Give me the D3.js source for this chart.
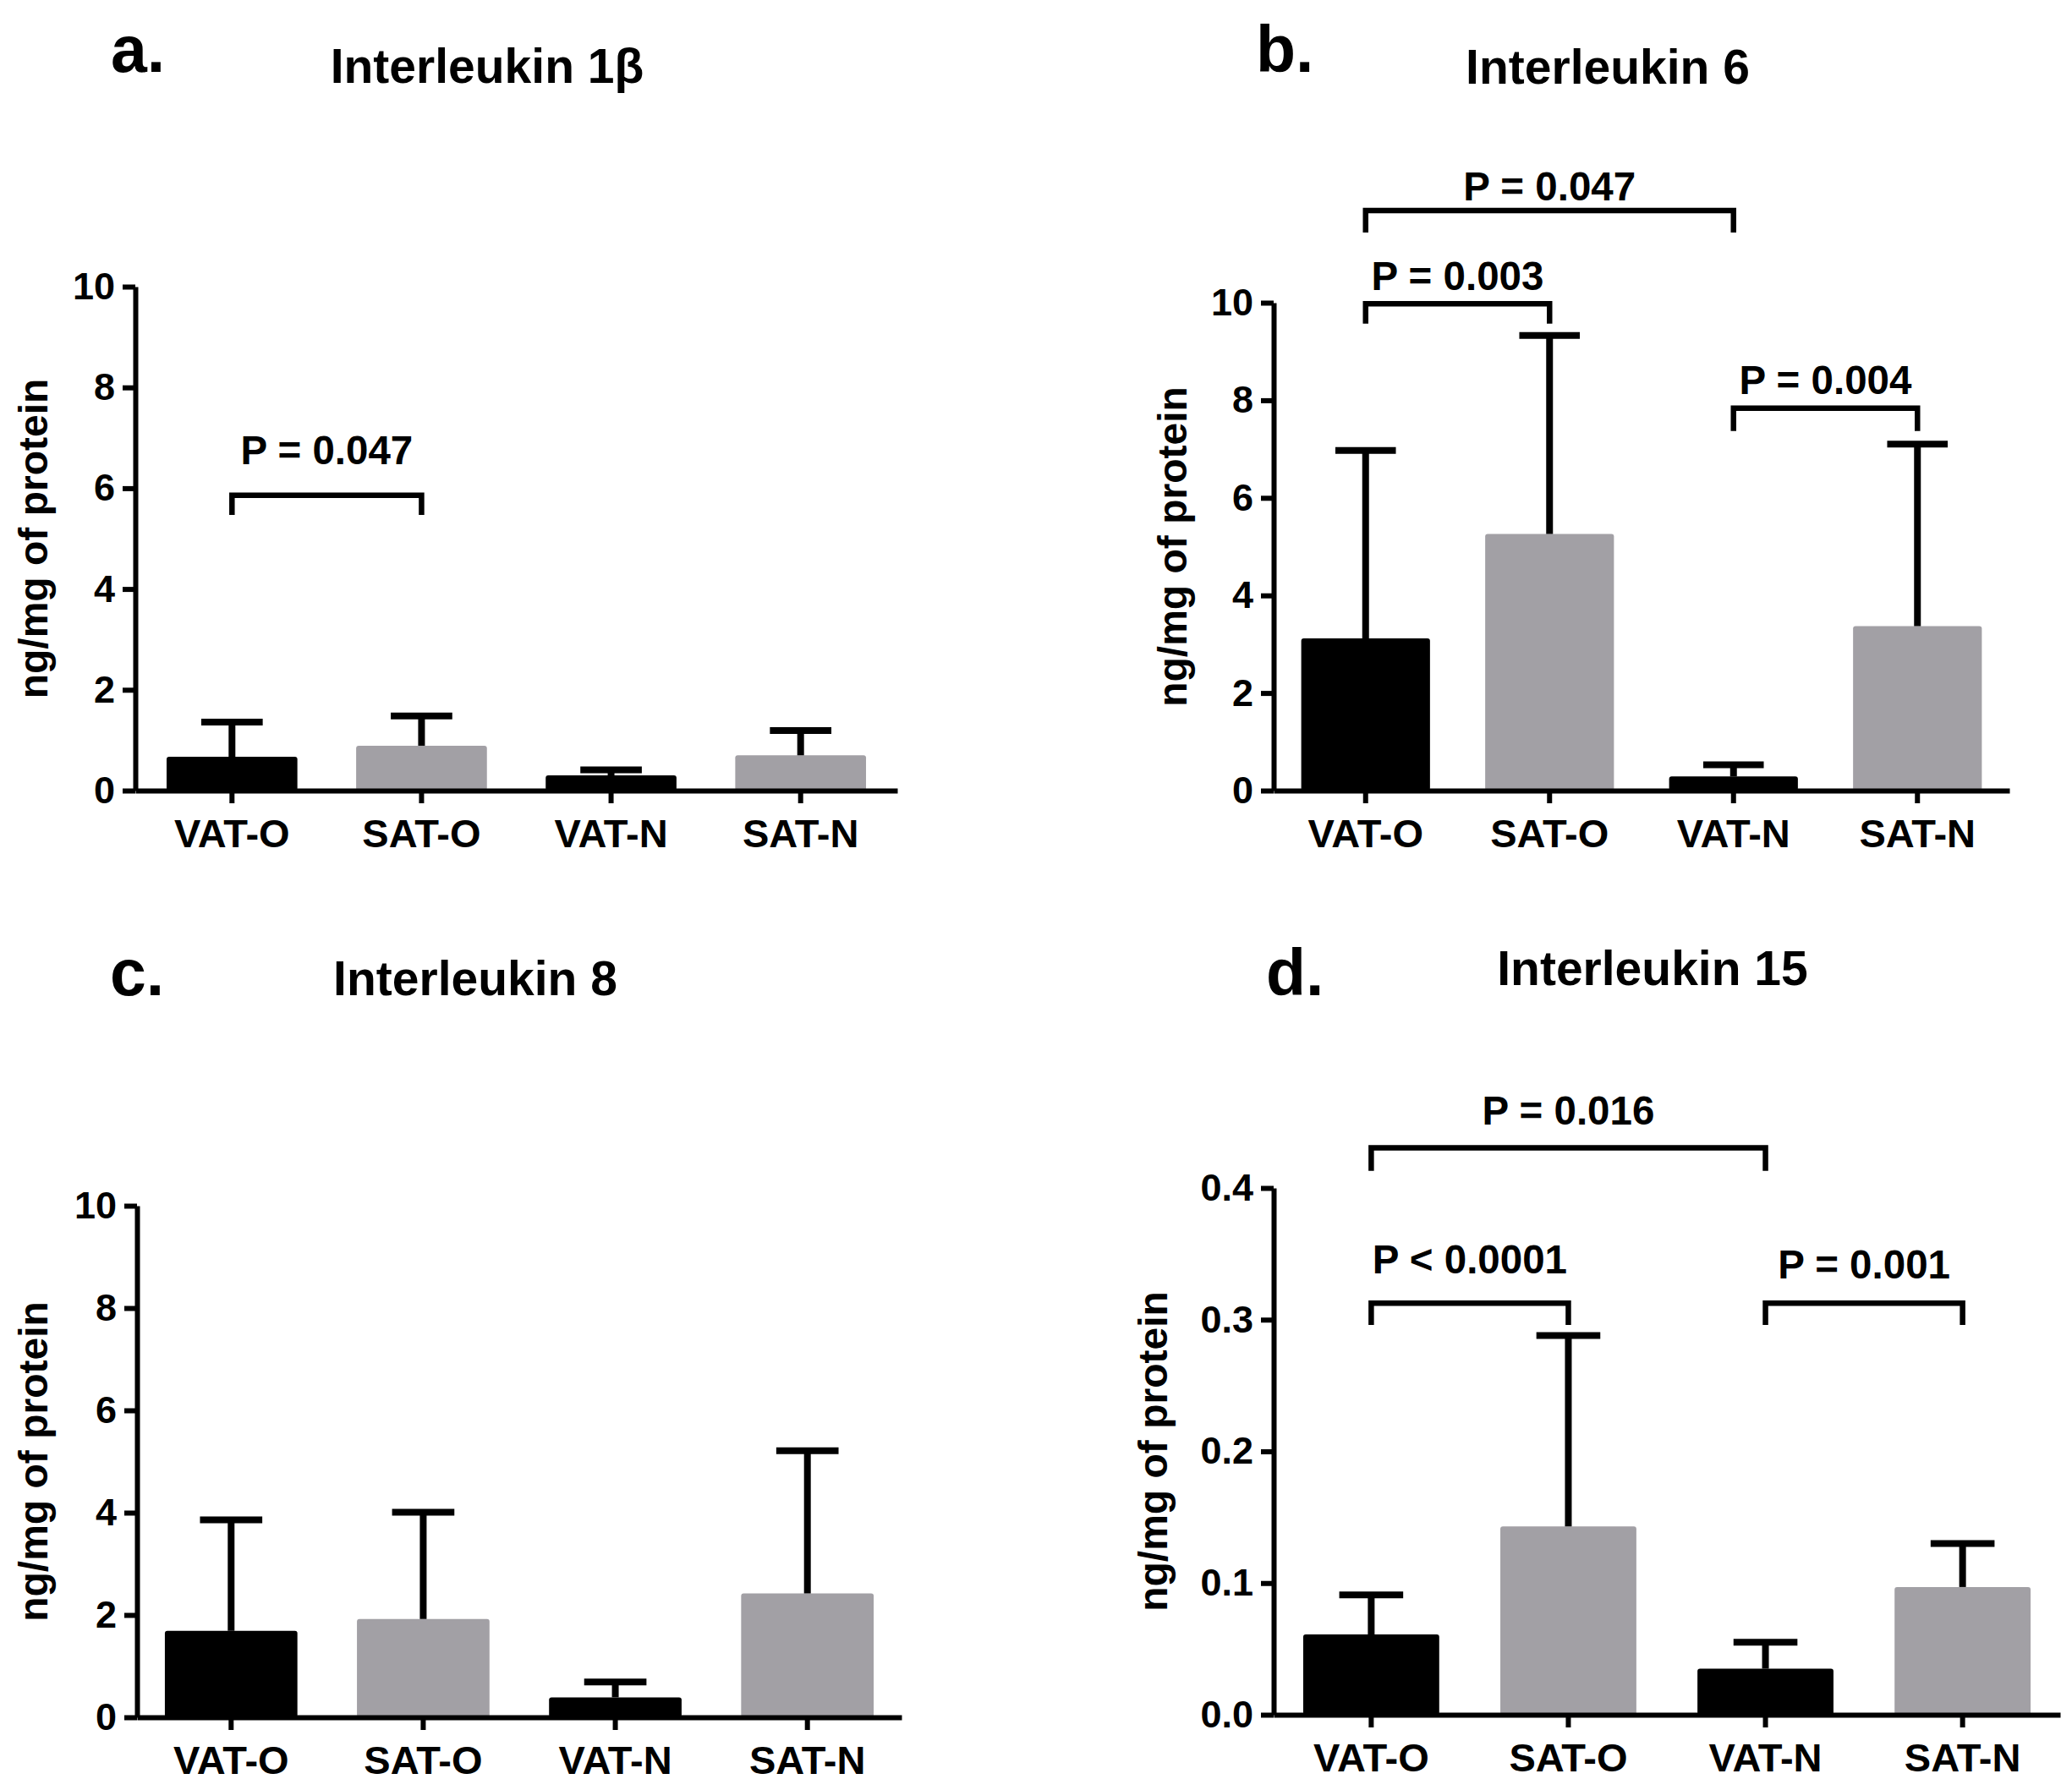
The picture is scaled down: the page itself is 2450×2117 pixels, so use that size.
<!DOCTYPE html>
<html lang="en">
    <head>
        <meta charset="utf-8">
        <title>Interleukins in adipose tissue</title>
        <script type="text/javascript" src="https://cdn.jsdelivr.net/npm/d3@7"></script>
        <style type="text/css">
            body { margin: 0; background: white; }
            text { font-family: "Liberation Sans", Arial, sans-serif; font-weight: bold; fill: black; }
            .axis path, .axis line { stroke: black; stroke-width: 6; fill: none; }
        </style>
    </head>
    <body>
        <script type="text/javascript">
            const categories = ["VAT-O", "SAT-O", "VAT-N", "SAT-N"]
            const barColors = ["#000000", "#a2a0a5", "#000000", "#a2a0a5"]

            // mean and SD (upper bar only)
            const il1bMeans = [0.67, 0.89, 0.30, 0.70]
            const il1bSD    = [0.69, 0.59, 0.11, 0.49]
            const il6Means  = [3.12, 5.26, 0.29, 3.37]
            const il6SD     = [3.85, 4.07, 0.24, 3.73]
            const il8Means  = [1.69, 1.92, 0.39, 2.42]
            const il8SD     = [2.17, 2.09, 0.30, 2.79]
            const il15Means = [0.061, 0.143, 0.035, 0.097]
            const il15SD    = [0.030, 0.145, 0.020, 0.033]

            const ticksTen  = [0, 2, 4, 6, 8, 10]
            const ticksIl15 = [0, 0.1, 0.2, 0.3, 0.4]

            // brackets: [from, to, bar level, leg end, label y, text]
            const il1bBrackets = [["VAT-O", "SAT-O", 5.86, 5.47, 6.48, "P = 0.047"]]
            const il6Brackets = [
                ["VAT-O", "VAT-N", 11.89, 11.44, 12.09, "P = 0.047"],
                ["VAT-O", "SAT-O", 9.98, 9.57, 10.26, "P = 0.003"],
                ["VAT-N", "SAT-N", 7.84, 7.37, 8.13, "P = 0.004"]
            ]
            const il8Brackets = []
            const il15Brackets = [
                ["VAT-O", "VAT-N", 0.4305, 0.413, 0.448, "P = 0.016"],
                ["VAT-O", "SAT-O", 0.3126, 0.296, 0.335, "P < 0.0001"],
                ["VAT-N", "SAT-N", 0.3126, 0.296, 0.331, "P = 0.001"]
            ]

            const w = 2450
            const h = 2117

            const svg = d3.select("body")
                            .append("svg")
                            .attr("width", w)
                            .attr("height", h)

            const panels = [
                { letter: "a.", title: "Interleukin 1\u03b2", means: il1bMeans, sd: il1bSD, ticks: ticksTen, fmt: d3.format("d"), brackets: il1bBrackets,
                  x0: 160, x1: 1061, yTop: 339, yBot: 935, pin: 0.31, pout: 0.165,
                  letterX: 131, letterY: 85, titleX: 576, titleY: 98, labelX: 56 },
                { letter: "b.", title: "Interleukin 6", means: il6Means, sd: il6SD, ticks: ticksTen, fmt: d3.format("d"), brackets: il6Brackets,
                  x0: 1506, x1: 2376, yTop: 358, yBot: 935, pin: 0.30, pout: 0.15,
                  letterX: 1485, letterY: 85, titleX: 1901, titleY: 99, labelX: 1403 },
                { letter: "c.", title: "Interleukin 8", means: il8Means, sd: il8SD, ticks: ticksTen, fmt: d3.format("d"), brackets: il8Brackets,
                  x0: 162, x1: 1066, yTop: 1426, yBot: 2031, pin: 0.31, pout: 0.145,
                  letterX: 130, letterY: 1177, titleX: 562, titleY: 1177, labelX: 56 },
                { letter: "d.", title: "Interleukin 15", means: il15Means, sd: il15SD, ticks: ticksIl15, fmt: d3.format(".1f"), brackets: il15Brackets,
                  x0: 1506, x1: 2436, yTop: 1405, yBot: 2028, pin: 0.31, pout: 0.15,
                  letterX: 1497, letterY: 1177, titleX: 1954, titleY: 1165, labelX: 1380 }
            ]

            panels.forEach(p => {
                const g = svg.append("g")

                const xScale = d3.scaleBand()
                                .domain(categories)
                                .range([p.x0, p.x1])
                                .paddingInner(p.pin)
                                .paddingOuter(p.pout)

                const yScale = d3.scaleLinear()
                                .domain([0, d3.max(p.ticks)])
                                .range([p.yBot, p.yTop])

                const rows = categories.map((c, i) => ({ cat: c, mean: p.means[i], sd: p.sd[i], color: barColors[i] }))

                g.selectAll("rect.bar")
                    .data(rows)
                    .enter()
                    .append("rect")
                    .attr("class", "bar")
                    .attr("x", d => xScale(d.cat))
                    .attr("y", d => yScale(d.mean))
                    .attr("width", xScale.bandwidth())
                    .attr("height", d => yScale(0) - yScale(d.mean))
                    .attr("rx", 3)
                    .attr("fill", d => d.color)

                // error bars, upper half only
                const cx = d => xScale(d.cat) + xScale.bandwidth() / 2
                const capHalf = xScale.bandwidth() * 0.235
                g.selectAll("line.err")
                    .data(rows)
                    .enter()
                    .append("line")
                    .attr("x1", cx).attr("x2", cx)
                    .attr("y1", d => yScale(d.mean))
                    .attr("y2", d => yScale(d.mean + d.sd))
                    .attr("stroke", "black")
                    .attr("stroke-width", 8)
                g.selectAll("line.cap")
                    .data(rows)
                    .enter()
                    .append("line")
                    .attr("x1", d => cx(d) - capHalf).attr("x2", d => cx(d) + capHalf)
                    .attr("y1", d => yScale(d.mean + d.sd))
                    .attr("y2", d => yScale(d.mean + d.sd))
                    .attr("stroke", "black")
                    .attr("stroke-width", 8)

                const yAxis = d3.axisLeft(yScale)
                                .tickValues(p.ticks)
                                .tickFormat(p.fmt)
                                .tickSize(15)
                                .tickSizeOuter(0)
                                .tickPadding(9)
                g.append("g")
                    .attr("class", "axis")
                    .attr("transform", `translate(${p.x0}, 0)`)
                    .call(yAxis)
                    .selectAll("text")
                    .style("font-size", "45px")

                const xAxis = d3.axisBottom(xScale)
                                .tickSize(15)
                                .tickSizeOuter(0)
                                .tickPadding(19)
                g.append("g")
                    .attr("class", "axis")
                    .attr("transform", `translate(0, ${p.yBot})`)
                    .call(xAxis)
                    .selectAll("text")
                    .style("font-size", "47px")

                // significance brackets
                p.brackets.forEach(b => {
                    const bx1 = xScale(b[0]) + xScale.bandwidth() / 2
                    const bx2 = xScale(b[1]) + xScale.bandwidth() / 2
                    const path = d3.path()
                    path.moveTo(bx1, yScale(b[3]))
                    path.lineTo(bx1, yScale(b[2]))
                    path.lineTo(bx2, yScale(b[2]))
                    path.lineTo(bx2, yScale(b[3]))
                    g.append("path")
                        .attr("d", path.toString())
                        .attr("fill", "none")
                        .attr("stroke", "black")
                        .attr("stroke-width", 6.5)
                    g.append("text")
                        .attr("x", (bx1 + bx2) / 2)
                        .attr("y", yScale(b[4]))
                        .attr("text-anchor", "middle")
                        .style("font-size", "47.5px")
                        .text(b[5])
                })

                g.append("text")
                    .attr("x", p.letterX)
                    .attr("y", p.letterY)
                    .style("font-size", "77px")
                    .text(p.letter)

                g.append("text")
                    .attr("x", p.titleX)
                    .attr("y", p.titleY)
                    .attr("text-anchor", "middle")
                    .style("font-size", "57px")
                    .text(p.title)

                g.append("text")
                    .attr("transform", `translate(${p.labelX}, ${(p.yTop + p.yBot) / 2}) rotate(-90)`)
                    .attr("text-anchor", "middle")
                    .style("font-size", "48px")
                    .text("ng/mg of protein")
            })
        </script>
    </body>
</html>
